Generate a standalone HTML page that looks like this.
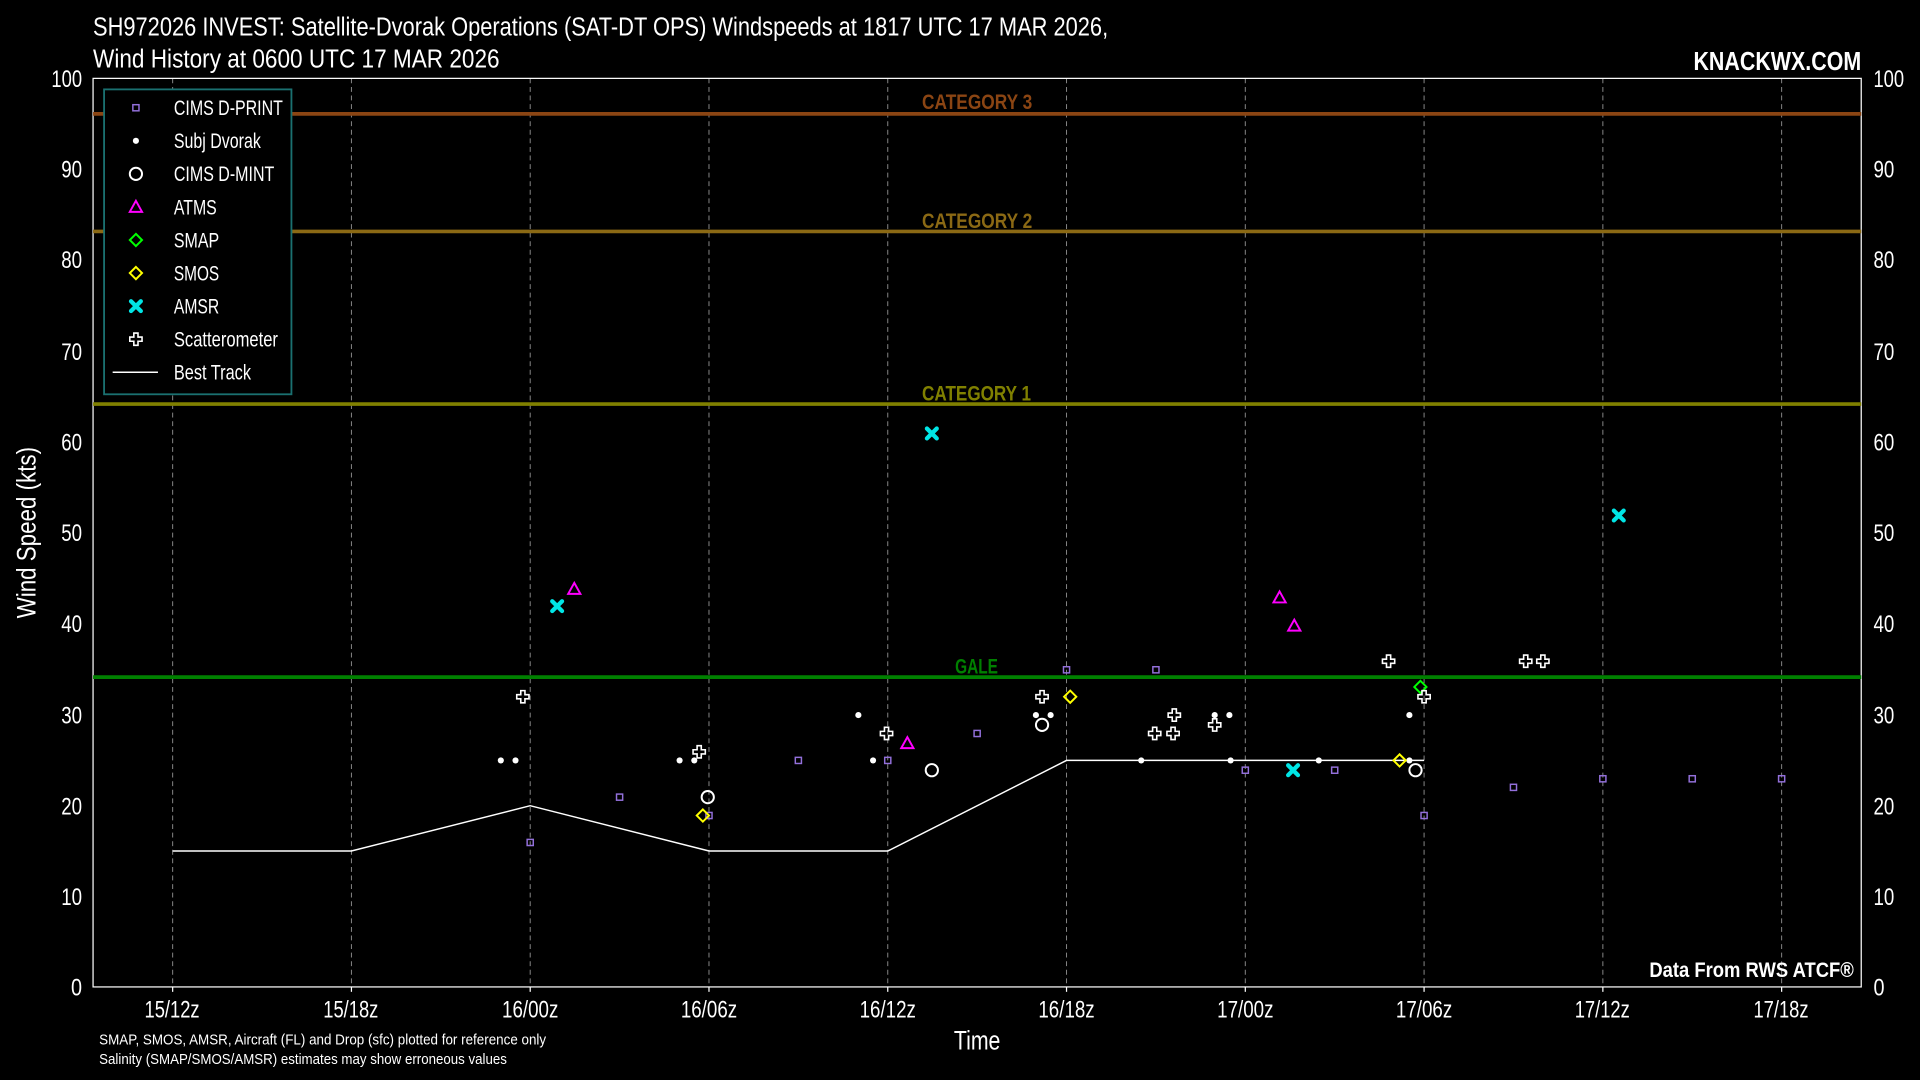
<!DOCTYPE html>
<html><head><meta charset="utf-8"><style>
html,body{margin:0;padding:0;background:#000;width:1920px;height:1080px;overflow:hidden}
svg{display:block}
text{font-family:"Liberation Sans Narrow","Liberation Sans",sans-serif;fill:#fff}
</style></head><body>
<svg width="1920" height="1080" viewBox="0 0 1568 882" xmlns="http://www.w3.org/2000/svg">
<rect width="1568" height="882" fill="#000"/>
<g stroke="#888" stroke-width="0.8" stroke-dasharray="4,3">
<line x1="141" y1="64" x2="141" y2="806"/><line x1="287" y1="64" x2="287" y2="806"/><line x1="433" y1="64" x2="433" y2="806"/><line x1="579" y1="64" x2="579" y2="806"/><line x1="725" y1="64" x2="725" y2="806"/><line x1="871" y1="64" x2="871" y2="806"/><line x1="1017" y1="64" x2="1017" y2="806"/><line x1="1163" y1="64" x2="1163" y2="806"/><line x1="1309" y1="64" x2="1309" y2="806"/><line x1="1455" y1="64" x2="1455" y2="806"/>
</g>
<rect x="76" y="64" width="1444" height="742" fill="none" stroke="#fff" stroke-width="1"/>
<line x1="76" y1="93" x2="1520" y2="93" stroke="#8B4513" stroke-width="3"/>
<line x1="76" y1="189" x2="1520" y2="189" stroke="#8B6914" stroke-width="3"/>
<line x1="76" y1="330" x2="1520" y2="330" stroke="#808000" stroke-width="3"/>
<line x1="76" y1="553" x2="1520" y2="553" stroke="#008000" stroke-width="3"/>
<g font-size="17" font-weight="bold" lengthAdjust="spacingAndGlyphs">
<text x="753" y="89" textLength="90" lengthAdjust="spacingAndGlyphs" style="fill:#8B4513">CATEGORY 3</text>
<text x="753" y="186" textLength="90" lengthAdjust="spacingAndGlyphs" style="fill:#8B6914">CATEGORY 2</text>
<text x="753" y="327" textLength="89" lengthAdjust="spacingAndGlyphs" style="fill:#808000">CATEGORY 1</text>
<text x="780" y="550" textLength="35" lengthAdjust="spacingAndGlyphs" style="fill:#008000">GALE</text>
</g>
<g font-size="20">
<g>
<text x="42" y="71" textLength="25" lengthAdjust="spacingAndGlyphs">100</text>
<text x="50" y="145" textLength="17" lengthAdjust="spacingAndGlyphs">90</text><text x="50" y="219" textLength="17" lengthAdjust="spacingAndGlyphs">80</text><text x="50" y="294" textLength="17" lengthAdjust="spacingAndGlyphs">70</text><text x="50" y="368" textLength="17" lengthAdjust="spacingAndGlyphs">60</text><text x="50" y="442" textLength="17" lengthAdjust="spacingAndGlyphs">50</text><text x="50" y="516" textLength="17" lengthAdjust="spacingAndGlyphs">40</text><text x="50" y="591" textLength="17" lengthAdjust="spacingAndGlyphs">30</text><text x="50" y="665" textLength="17" lengthAdjust="spacingAndGlyphs">20</text><text x="50" y="739" textLength="17" lengthAdjust="spacingAndGlyphs">10</text><text x="58" y="813" textLength="9" lengthAdjust="spacingAndGlyphs">0</text>
</g>
<g>
<text x="1530" y="71" textLength="25" lengthAdjust="spacingAndGlyphs">100</text><text x="1530" y="145" textLength="17" lengthAdjust="spacingAndGlyphs">90</text><text x="1530" y="219" textLength="17" lengthAdjust="spacingAndGlyphs">80</text><text x="1530" y="294" textLength="17" lengthAdjust="spacingAndGlyphs">70</text><text x="1530" y="368" textLength="17" lengthAdjust="spacingAndGlyphs">60</text><text x="1530" y="442" textLength="17" lengthAdjust="spacingAndGlyphs">50</text><text x="1530" y="516" textLength="17" lengthAdjust="spacingAndGlyphs">40</text><text x="1530" y="591" textLength="17" lengthAdjust="spacingAndGlyphs">30</text><text x="1530" y="665" textLength="17" lengthAdjust="spacingAndGlyphs">20</text><text x="1530" y="739" textLength="17" lengthAdjust="spacingAndGlyphs">10</text><text x="1530" y="813" textLength="9" lengthAdjust="spacingAndGlyphs">0</text>
</g>
<g>
<text x="118" y="831" textLength="45" lengthAdjust="spacingAndGlyphs">15/12z</text><text x="264" y="831" textLength="45" lengthAdjust="spacingAndGlyphs">15/18z</text><text x="410" y="831" textLength="46" lengthAdjust="spacingAndGlyphs">16/00z</text><text x="556" y="831" textLength="46" lengthAdjust="spacingAndGlyphs">16/06z</text><text x="702" y="831" textLength="46" lengthAdjust="spacingAndGlyphs">16/12z</text><text x="848" y="831" textLength="46" lengthAdjust="spacingAndGlyphs">16/18z</text><text x="994" y="831" textLength="46" lengthAdjust="spacingAndGlyphs">17/00z</text><text x="1140" y="831" textLength="46" lengthAdjust="spacingAndGlyphs">17/06z</text><text x="1286" y="831" textLength="45" lengthAdjust="spacingAndGlyphs">17/12z</text><text x="1432" y="831" textLength="45" lengthAdjust="spacingAndGlyphs">17/18z</text>
</g>
</g>
<g stroke="#fff" stroke-width="1">
<line x1="141" y1="806" x2="141" y2="810"/><line x1="287" y1="806" x2="287" y2="810"/><line x1="433" y1="806" x2="433" y2="810"/><line x1="579" y1="806" x2="579" y2="810"/><line x1="725" y1="806" x2="725" y2="810"/><line x1="871" y1="806" x2="871" y2="810"/><line x1="1017" y1="806" x2="1017" y2="810"/><line x1="1163" y1="806" x2="1163" y2="810"/><line x1="1309" y1="806" x2="1309" y2="810"/><line x1="1455" y1="806" x2="1455" y2="810"/>
</g>
<text x="779" y="857" font-size="22" textLength="38" lengthAdjust="spacingAndGlyphs">Time</text>
<text transform="translate(29,505) rotate(-90)" font-size="22" textLength="140" lengthAdjust="spacingAndGlyphs">Wind Speed (kts)</text>
<text x="76" y="29" font-size="21" textLength="829" lengthAdjust="spacingAndGlyphs">SH972026 INVEST: Satellite-Dvorak Operations (SAT-DT OPS) Windspeeds at 1817 UTC 17 MAR 2026,</text>
<text x="76" y="55" font-size="21" textLength="332" lengthAdjust="spacingAndGlyphs">Wind History at 0600 UTC 17 MAR 2026</text>
<text x="1383" y="57" font-size="21" font-weight="bold" textLength="137" lengthAdjust="spacingAndGlyphs">KNACKWX.COM</text>
<text x="1347" y="798" font-size="17" font-weight="bold" textLength="167" lengthAdjust="spacingAndGlyphs">Data From RWS ATCF®</text>
<text x="81" y="853" font-size="12" textLength="365" lengthAdjust="spacingAndGlyphs">SMAP, SMOS, AMSR, Aircraft (FL) and Drop (sfc) plotted for reference only</text>
<text x="81" y="869" font-size="12" textLength="333" lengthAdjust="spacingAndGlyphs">Salinity (SMAP/SMOS/AMSR) estimates may show erroneous values</text>
<polyline points="141,695 287,695 433,658 579,695 725,695 871,621 1163,621" fill="none" stroke="#fff" stroke-width="1.2"/>
<g fill="none" stroke="#9370DB" stroke-width="1.2">
<rect x="430.5" y="685.5" width="5" height="5"/><rect x="503.5" y="648.5" width="5" height="5"/><rect x="576.5" y="663.5" width="5" height="5"/><rect x="649.5" y="618.5" width="5" height="5"/><rect x="722.5" y="618.5" width="5" height="5"/><rect x="795.5" y="596.5" width="5" height="5"/><rect x="868.5" y="544.5" width="5" height="5"/><rect x="941.5" y="544.5" width="5" height="5"/><rect x="1014.5" y="626.5" width="5" height="5"/><rect x="1087.5" y="626.5" width="5" height="5"/><rect x="1160.5" y="663.5" width="5" height="5"/><rect x="1233.5" y="640.5" width="5" height="5"/><rect x="1306.5" y="633.5" width="5" height="5"/><rect x="1379.5" y="633.5" width="5" height="5"/><rect x="1452.5" y="633.5" width="5" height="5"/>
</g>
<g fill="#fff">
<circle cx="409" cy="621" r="2.5"/><circle cx="421" cy="621" r="2.5"/><circle cx="555" cy="621" r="2.5"/><circle cx="567" cy="621" r="2.5"/><circle cx="701" cy="584" r="2.5"/><circle cx="713" cy="621" r="2.5"/><circle cx="846" cy="584" r="2.5"/><circle cx="858" cy="584" r="2.5"/><circle cx="932" cy="621" r="2.5"/><circle cx="992" cy="584" r="2.5"/><circle cx="1004" cy="584" r="2.5"/><circle cx="1005" cy="621" r="2.5"/><circle cx="1077" cy="621" r="2.5"/><circle cx="1151" cy="584" r="2.5"/><circle cx="1151" cy="621" r="2.5"/>
</g>
<g fill="none" stroke="#fff" stroke-width="1.6">
<circle cx="578" cy="651" r="5"/><circle cx="761" cy="629" r="5"/><circle cx="851" cy="592" r="5"/><circle cx="1156" cy="629" r="5"/>
</g>
<g fill="none" stroke="#ff00ff" stroke-width="1.6">
<polygon points="469,476 474,485 464,485"/><polygon points="741,602 746,611 736,611"/><polygon points="1045,483 1050,492 1040,492"/><polygon points="1057,506 1062,515 1052,515"/>
</g>
<polygon points="1160,556 1165,561 1160,566 1155,561" fill="none" stroke="#00ff00" stroke-width="1.6"/>
<g fill="none" stroke="#ffff00" stroke-width="1.6">
<polygon points="574,661 579,666 574,671 569,666"/><polygon points="874,564 879,569 874,574 869,569"/><polygon points="1143,616 1148,621 1143,626 1138,621"/>
</g>
<g stroke="#00e5e5" stroke-width="3.5" stroke-linecap="round">
<path d="M451,491 L459,499 M459,491 L451,499"/><path d="M757,350 L765,358 M765,350 L757,358"/><path d="M1052,625 L1060,633 M1060,625 L1052,633"/><path d="M1318,417 L1326,425 M1326,417 L1318,425"/>
</g>
<g fill="none" stroke="#fff" stroke-width="1.3">
<path d="M-1.7,-5 h3.4 v3.3 h3.3 v3.4 h-3.3 v3.3 h-3.4 v-3.3 h-3.3 v-3.4 h3.3 z" transform="translate(427,569)"/>
<path d="M-1.7,-5 h3.4 v3.3 h3.3 v3.4 h-3.3 v3.3 h-3.4 v-3.3 h-3.3 v-3.4 h3.3 z" transform="translate(571,614)"/>
<path d="M-1.7,-5 h3.4 v3.3 h3.3 v3.4 h-3.3 v3.3 h-3.4 v-3.3 h-3.3 v-3.4 h3.3 z" transform="translate(724,599)"/>
<path d="M-1.7,-5 h3.4 v3.3 h3.3 v3.4 h-3.3 v3.3 h-3.4 v-3.3 h-3.3 v-3.4 h3.3 z" transform="translate(851,569)"/>
<path d="M-1.7,-5 h3.4 v3.3 h3.3 v3.4 h-3.3 v3.3 h-3.4 v-3.3 h-3.3 v-3.4 h3.3 z" transform="translate(943,599)"/>
<path d="M-1.7,-5 h3.4 v3.3 h3.3 v3.4 h-3.3 v3.3 h-3.4 v-3.3 h-3.3 v-3.4 h3.3 z" transform="translate(958,599)"/>
<path d="M-1.7,-5 h3.4 v3.3 h3.3 v3.4 h-3.3 v3.3 h-3.4 v-3.3 h-3.3 v-3.4 h3.3 z" transform="translate(959,584)"/>
<path d="M-1.7,-5 h3.4 v3.3 h3.3 v3.4 h-3.3 v3.3 h-3.4 v-3.3 h-3.3 v-3.4 h3.3 z" transform="translate(992,592)"/>
<path d="M-1.7,-5 h3.4 v3.3 h3.3 v3.4 h-3.3 v3.3 h-3.4 v-3.3 h-3.3 v-3.4 h3.3 z" transform="translate(1134,540)"/>
<path d="M-1.7,-5 h3.4 v3.3 h3.3 v3.4 h-3.3 v3.3 h-3.4 v-3.3 h-3.3 v-3.4 h3.3 z" transform="translate(1163,569)"/>
<path d="M-1.7,-5 h3.4 v3.3 h3.3 v3.4 h-3.3 v3.3 h-3.4 v-3.3 h-3.3 v-3.4 h3.3 z" transform="translate(1246,540)"/>
<path d="M-1.7,-5 h3.4 v3.3 h3.3 v3.4 h-3.3 v3.3 h-3.4 v-3.3 h-3.3 v-3.4 h3.3 z" transform="translate(1260,540)"/>
</g>
<rect x="85" y="73" width="153" height="249" fill="#000" stroke="#1a7070" stroke-width="1.5"/>
<g font-size="17">
<text x="142" y="94" textLength="89" lengthAdjust="spacingAndGlyphs">CIMS D-PRINT</text>
<text x="142" y="121" textLength="71" lengthAdjust="spacingAndGlyphs">Subj Dvorak</text>
<text x="142" y="148" textLength="82" lengthAdjust="spacingAndGlyphs">CIMS D-MINT</text>
<text x="142" y="175" textLength="35" lengthAdjust="spacingAndGlyphs">ATMS</text>
<text x="142" y="202" textLength="37" lengthAdjust="spacingAndGlyphs">SMAP</text>
<text x="142" y="229" textLength="37" lengthAdjust="spacingAndGlyphs">SMOS</text>
<text x="142" y="256" textLength="37" lengthAdjust="spacingAndGlyphs">AMSR</text>
<text x="142" y="283" textLength="85" lengthAdjust="spacingAndGlyphs">Scatterometer</text>
<text x="142" y="310" textLength="63" lengthAdjust="spacingAndGlyphs">Best Track</text>
</g>
<rect x="108.5" y="85.5" width="5" height="5" fill="none" stroke="#9370DB" stroke-width="1.2"/>
<circle cx="111" cy="115" r="2.5" fill="#fff"/>
<circle cx="111" cy="142" r="5" fill="none" stroke="#fff" stroke-width="1.6"/>
<polygon points="111,164 116,173 106,173" fill="none" stroke="#ff00ff" stroke-width="1.6"/>
<polygon points="111,191 116,196 111,201 106,196" fill="none" stroke="#00ff00" stroke-width="1.6"/>
<polygon points="111,218 116,223 111,228 106,223" fill="none" stroke="#ffff00" stroke-width="1.6"/>
<path d="M107,246 L115,254 M115,246 L107,254" stroke="#00e5e5" stroke-width="3.5" stroke-linecap="round"/>
<path d="M-1.7,-5 h3.4 v3.3 h3.3 v3.4 h-3.3 v3.3 h-3.4 v-3.3 h-3.3 v-3.4 h3.3 z" transform="translate(111,277)" fill="none" stroke="#fff" stroke-width="1.3"/>
<line x1="92" y1="304" x2="129" y2="304" stroke="#fff" stroke-width="1.2"/>
</svg>
</body></html>
